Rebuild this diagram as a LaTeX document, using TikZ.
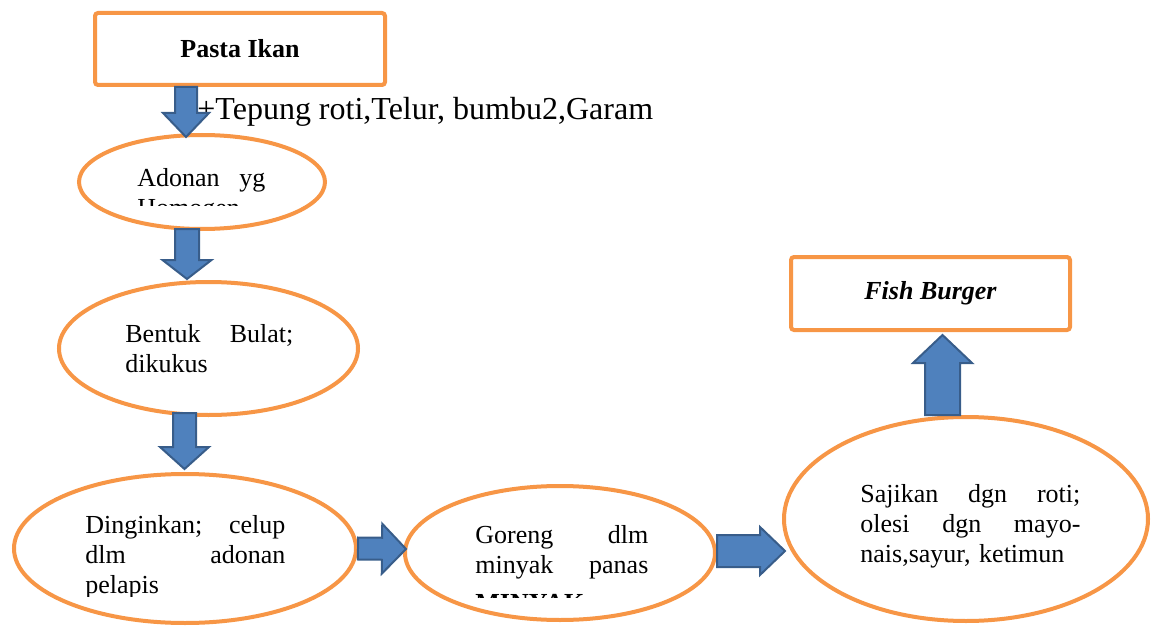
\documentclass[tikz,border=0pt]{standalone}
\usepackage{fontspec}
\setmainfont{Liberation Serif}
\usepackage{xcolor}
\usepackage{tikz}
\usetikzlibrary{positioning,shapes.geometric,calc}
\definecolor{boxorange}{HTML}{F79646}
\definecolor{arrfill}{HTML}{4F81BD}
\definecolor{arrline}{HTML}{385D8A}

\begin{document}
\begin{tikzpicture}[
  x=0.5pt, y=-0.5pt,
  box/.style={draw=boxorange, line width=2pt, rounded corners=1.5pt, fill=white, inner sep=0pt, font=\fontsize{13}{15}\selectfont\bfseries},
  stage/.style={ellipse, draw=boxorange, line width=2pt, fill=white, inner sep=0pt},
  stagetxt/.style={anchor=north west, inner sep=0pt, align=left, font=\fontsize{13}{15}\selectfont},
  blk/.style n args={3}{draw=arrline, fill=arrfill, line width=1pt, line join=miter,
    to path={let \p1=(\tikztostart), \p2=(\tikztotarget), \p3=($(\p2)!#3!(\p1)$) in
      ($(\p1)!#1!90:(\p2)$) -- ($(\p3)!#1!90:(\p2)$) -- ($(\p3)!#2!90:(\p2)$) -- (\p2)
      -- ($(\p3)!#2!-90:(\p2)$) -- ($(\p3)!#1!-90:(\p2)$) -- ($(\p1)!#1!-90:(\p2)$) -- cycle}}
]
\useasboundingbox (0,0) rectangle (1152,626);
\node[box, minimum width=145pt, minimum height=36pt] (pasta) at (240,49) {Pasta Ikan};
\node[box, minimum width=139.5pt, minimum height=36.5pt] (fish) at (930.5,293.5) {\itshape Fish Burger};
\node[stage, minimum width=123pt, minimum height=47pt] (adonan) at (202,182) {};
\node[stage, minimum width=149.5pt, minimum height=66.5pt] (bentuk) at (208.5,348.5) {};
\node[stage, minimum width=171pt, minimum height=74.5pt] (dingin) at (185,548.5) {};
\node[stage, minimum width=155pt, minimum height=67pt] (goreng) at (560,553) {};
\node[stage, minimum width=182pt, minimum height=102pt] (sajikan) at (966,519) {};
\node[anchor=base west, inner sep=0pt, font=\fontsize{16}{19}\selectfont] (bahan) at (197,120) {+Tepung roti,Telur, bumbu2,Garam};
\begin{scope}
  \clip (0,0) rectangle (1152,206);
  \node[stagetxt, text width=64pt] (adonantxt) at (137,168.5) {Adonan\hfill yg\\Homogen};
\end{scope}
\node[stagetxt, text width=84pt] (bentuktxt) at (125,324.5) {Bentuk\hfill Bulat;\\dikukus};
\begin{scope}
  \clip (0,0) rectangle (1152,596);
  \node[stagetxt, text width=100pt] (dingintxt) at (85,515.5) {Dinginkan;\hfill celup\\dlm\hfill adonan\\pelapis};
\end{scope}
\begin{scope}
  \clip (0,0) rectangle (1152,597);
  \node[stagetxt, text width=86.5pt] (gorengtxt) at (475,525.5) {Goreng\hfill dlm\\minyak\hfill panas\\[4pt]\textbf{MINYAK}};
\end{scope}
\node[stagetxt, text width=110pt] (sajikantxt) at (860,484.5) {Sajikan\hfill dgn\hfill roti;\\olesi\hfill dgn\hfill mayo-\\nais,sayur, ketimun};
\draw[blk={5.5pt}{11.5pt}{12pt}] ([xshift=-27pt]pasta.south) to ([shift={(-8pt,-2pt)}]adonan.north);
\draw[blk={6pt}{12.25pt}{9.5pt}] ([shift={(-7.5pt,1pt)}]adonan.south) to ([shift={(-10.75pt,0.5pt)}]bentuk.north);
\draw[blk={5.75pt}{12.25pt}{11pt}] ([shift={(-12pt,2pt)}]bentuk.south) to ([shift={(-0.25pt,1.5pt)}]dingin.north);
\draw[blk={5.5pt}{12.5pt}{12pt}] (dingin.east) to ([shift={(1.5pt,2pt)}]goreng.west);
\draw[blk={8pt}{12pt}{12.5pt}] ([yshift=1pt]goreng.east) to ([shift={(1.5pt,-16pt)}]sajikan.west);
\draw[blk={8.75pt}{14.75pt}{14pt}] ([xshift=-11.75pt]sajikan.north) to ([shift={(6pt,-1.5pt)}]fish.south);
\end{tikzpicture}
\end{document}
